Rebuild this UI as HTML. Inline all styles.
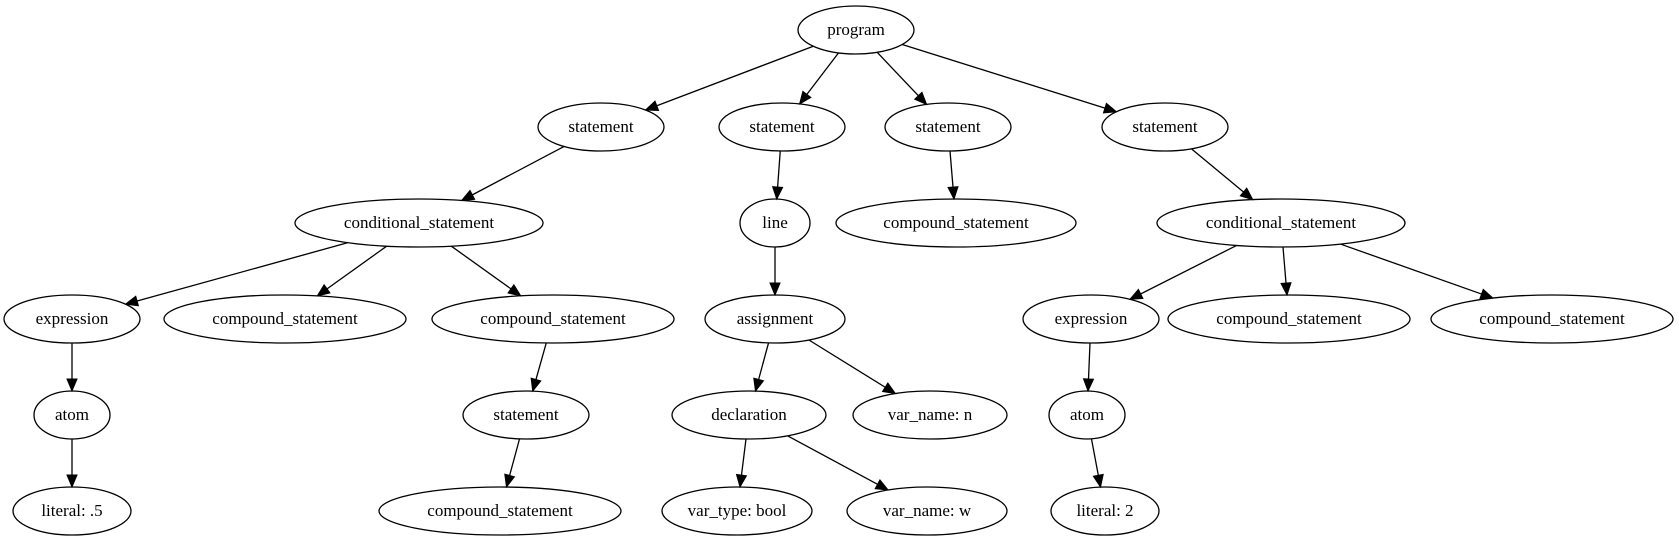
<!DOCTYPE html>
<html><head><meta charset="utf-8"><style>html,body{margin:0;padding:0;background:#fff}svg{display:block}</style></head>
<body>
<svg id="s" width="1679" height="539" xmlns="http://www.w3.org/2000/svg" font-family="Liberation Serif, serif" font-size="17">
</svg>
<script>
const N={
p:[856,30,58,"program"],
s1:[601,127,63,"statement"],s2:[782,127,63,"statement"],s3:[948,127,63,"statement"],s4:[1165,127,63,"statement"],
c1:[419,223,124,"conditional_statement"],ln:[775,223,35,"line"],cs3:[956,223,120,"compound_statement"],c2:[1281,223,124,"conditional_statement"],
e1:[72,319,68,"expression"],cA:[285,319,121,"compound_statement"],cB:[553,319,121,"compound_statement"],as:[775,319,70,"assignment"],e2:[1091,319,68,"expression"],cC:[1289,319,121,"compound_statement"],cD:[1552,319,121,"compound_statement"],
a1:[72,415,38,"atom"],st:[526,415,63,"statement"],de:[749,415,77,"declaration"],vn:[930,415,77,"var_name: n"],a2:[1087,415,38,"atom"],
l1:[72,511,59,"literal: .5"],cE:[500,511,121,"compound_statement"],vt:[737,511,75,"var_type: bool"],vw:[927,511,80,"var_name: w"],l2:[1105,511,54,"literal: 2"]};
const E=[["p","s1"],["p","s2"],["p","s3"],["p","s4"],["s1","c1"],["s2","ln"],["s3","cs3"],["s4","c2"],
["c1","e1"],["c1","cA"],["c1","cB"],["ln","as"],["c2","e2"],["c2","cC"],["c2","cD"],
["e1","a1"],["cB","st"],["as","de"],["as","vn"],["e2","a2"],["a1","l1"],["st","cE"],["de","vt"],["de","vw"],["a2","l2"]];
const RY=24;let h="";
function bd(n,dx,dy){const t=1/Math.sqrt((dx*dx)/(n[2]*n[2])+(dy*dy)/(RY*RY));return [n[0]+dx*t,n[1]+dy*t];}
for(const [a,b] of E){const A=N[a],B=N[b];const dx=B[0]-A[0],dy=B[1]-A[1];
const s=bd(A,dx,dy),e=bd(B,-dx,-dy);const L=Math.hypot(e[0]-s[0],e[1]-s[1]);const ux=(e[0]-s[0])/L,uy=(e[1]-s[1])/L;
const bx=e[0]-ux*12,by=e[1]-uy*12;const px=-uy*5,py=ux*5;
h+=`<line x1="${s[0]}" y1="${s[1]}" x2="${bx}" y2="${by}" stroke="#000" stroke-width="1.3"/>`;
h+=`<polygon points="${e[0]},${e[1]} ${bx+px},${by+py} ${bx-px},${by-py}" fill="#000" stroke="#000"/>`;}
for(const k in N){const n=N[k];h+=`<ellipse cx="${n[0]}" cy="${n[1]}" rx="${n[2]}" ry="${RY}" fill="none" stroke="#000" stroke-width="1.3"/><text x="${n[0]}" y="${n[1]+5}" text-anchor="middle">${n[3]}</text>`;}
document.getElementById("s").innerHTML=h;
</script>
</body></html>
